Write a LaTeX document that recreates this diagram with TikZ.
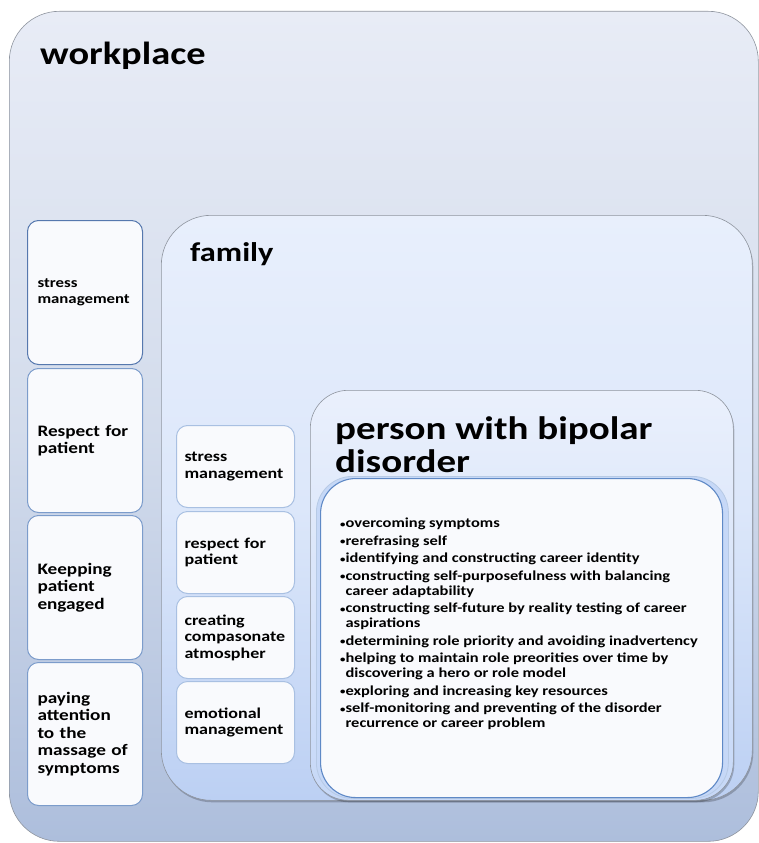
\documentclass[tikz,border=0pt]{standalone}
\usepackage{fontspec}
\setmainfont{Carlito}[FakeStretch=1.2]
\usetikzlibrary{shadows}
\definecolor{wpTop}{HTML}{E8ECF6}
\definecolor{wpMid}{HTML}{D3DCEC}
\definecolor{wpBot}{HTML}{ADBEDC}
\definecolor{famTop}{HTML}{E8EFFC}
\definecolor{famMid}{HTML}{DCE7FA}
\definecolor{famBot}{HTML}{BCD0F3}
\definecolor{perTop}{HTML}{EAF0FC}
\definecolor{perBot}{HTML}{C6D8F7}
\definecolor{frameGray}{HTML}{8E949E}
\definecolor{listBorder}{HTML}{5F89C6}
\definecolor{boxFill}{HTML}{F9FAFD}
\definecolor{leftBorder}{HTML}{7C9CCB}
\definecolor{leftBorderDark}{HTML}{5678AE}
\definecolor{famBorder}{HTML}{A9C0E2}
\newcommand\smallbul{\raisebox{0.12ex}{\fontsize{9}{9}\selectfont•}}
\tikzset{
  container/.style={rectangle, draw=frameGray, line width=0.6pt, anchor=north west, inner sep=0pt},
  leftbox/.style={rectangle, draw=leftBorder, line width=1pt, fill=boxFill, rounded corners=11pt,
    anchor=north west, minimum width=115pt, text width=95pt, inner xsep=10pt, align=left,
    font=\fontsize{16}{17.5}\selectfont\bfseries},
  fambox/.style={rectangle, draw=famBorder, line width=1pt, fill=boxFill, rounded corners=11pt,
    anchor=north west, minimum width=118pt, text width=102pt, inner xsep=8pt, align=left,
    minimum height=82pt, font=\fontsize{15}{16.5}\selectfont\bfseries},
  title/.style={anchor=north west, inner sep=0pt, align=left},
  softshadow/.style={drop shadow={shadow xshift=1pt, shadow yshift=-2pt, fill=black, opacity=0.22}}
}
\begin{document}
\begin{tikzpicture}[x=1pt,y=-1pt]
\useasboundingbox (0,0) rectangle (759,843);
% workplace
\node[container, rounded corners=50pt, minimum width=749pt, minimum height=830pt,
  top color=wpTop, bottom color=wpBot, middle color=wpMid] (wp) at (9,11) {};
\node[title, font=\fontsize{32}{36}\selectfont\bfseries] (wpt) at (40,42) {workplace};
% left column
\node[leftbox, minimum height=144pt, draw=leftBorderDark, font=\fontsize{14}{15.5}\selectfont\bfseries] (l1) at (27,220) {stress\\management};
\node[leftbox, minimum height=144pt] (l2) at (27,368) {Respect for\\patient};
\node[leftbox, minimum height=144pt] (l3) at (27,515) {Keepping\\patient\\engaged};
\node[leftbox, minimum height=143pt] (l4) at (27,662) {paying\\attention\\to the\\massage of\\symptoms};
% family
\node[container, softshadow, rounded corners=50pt, minimum width=591pt, minimum height=585pt,
  top color=famTop, bottom color=famBot, middle color=famMid] (fam) at (161,215) {};
\node[title, font=\fontsize{27}{32}\selectfont\bfseries] (famt) at (190,242) {family};
\node[fambox] (f1) at (176,425) {stress\\management};
\node[fambox] (f2) at (176,511) {respect for\\patient};
\node[fambox] (f3) at (176,596) {creating\\compasonate\\atmospher};
\node[fambox] (f4) at (176,681) {emotional\\management};
% person
\node[container, softshadow, rounded corners=38pt, minimum width=423pt, minimum height=410pt,
  top color=perTop, bottom color=perBot] (per) at (310,390) {};
\node[title, font=\fontsize{32.5}{33}\selectfont\bfseries] (pert) at (335,416) {person with bipolar\\disorder};
\node[rectangle, anchor=north west, draw=listBorder!45, line width=0.8pt, fill=perBot,
  rounded corners=36pt, minimum width=412pt, minimum height=322pt] (lay) at (316,476) {};
\node[rectangle, anchor=north west, draw=listBorder, line width=1.1pt, fill=boxFill,
  rounded corners=35pt, minimum width=402pt, minimum height=319pt] (lst) at (320,478) {};
\node[title, font=\fontsize{13.7}{15}\selectfont\bfseries] (items) at (340,518) {%
\smallbul overcoming symptoms\\[2.5pt]
\smallbul rerefrasing self\\[2.5pt]
\smallbul identifying and constructing career identity\\[2.5pt]
\smallbul constructing self-purposefulness with balancing\\
\phantom{\smallbul}career adaptability\\[2.5pt]
\smallbul constructing self-future by reality testing of career\\
\phantom{\smallbul}aspirations\\[2.5pt]
\smallbul determining role priority and avoiding inadvertency\\[2.5pt]
\smallbul helping to maintain role preorities over time by\\
\phantom{\smallbul}discovering a hero or role model\\[2.5pt]
\smallbul exploring and increasing key resources\\[2.5pt]
\smallbul self-monitoring and preventing of the disorder\\
\phantom{\smallbul}recurrence or career problem};
\end{tikzpicture}
\end{document}
